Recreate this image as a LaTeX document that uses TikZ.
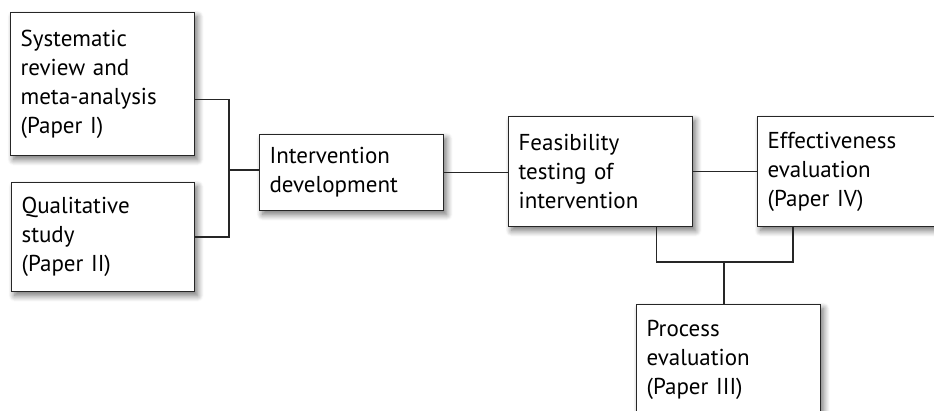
\documentclass[tikz,border=0pt]{standalone}
\usepackage{fontspec}
\setmainfont{PT Sans}
\usetikzlibrary{shadows.blur}
\begin{document}
\begin{tikzpicture}[x=1pt,y=-1pt,
  box/.style={draw=black!85, line width=1.2pt, fill=white, rectangle, anchor=north west,
    inner xsep=10pt, inner ysep=0pt, align=left,
    font=\fontsize{23}{29}\selectfont,
    blur shadow={shadow xshift=3pt, shadow yshift=-4pt, shadow blur steps=10, shadow opacity=55, shadow blur radius=6pt}},
  link/.style={draw=black!85, line width=1.4pt}]
\useasboundingbox (0,0) rectangle (934,410);
\node[box, text width=164pt, minimum height=143pt] (sys) at (10,12) {Systematic\\review and\\meta-analysis\\(Paper I)};
\node[box, text width=163pt, minimum height=109pt] (qual) at (11,182) {Qualitative\\study\\(Paper II)};
\node[box, text width=164pt, minimum height=76pt] (int) at (259,134) {Intervention\\development};
\node[box, text width=164pt, minimum height=110pt] (feas) at (508,116) {Feasibility\\testing of\\intervention};
\node[box, text width=170pt, minimum height=110pt] (eff) at (757,116) {Effectiveness\\evaluation\\(Paper IV)};
\node[box, text width=164pt, minimum height=110pt] (proc) at (636,304) {Process\\evaluation\\(Paper III)};
\coordinate (j) at (229,170);
\coordinate (k) at (724,262);
\draw[link] ([yshift=-15.5pt]sys.east) -| (j) |- (qual.east);
\draw[link] (j) -- (j -| int.west);
\draw[link] (int.east) -- (int.east -| feas.west);
\draw[link] (feas.east) -- (feas.east -| eff.west);
\draw[link] ([xshift=56pt]feas.south) |- (k) -| ([xshift=36pt]eff.south west);
\draw[link] (k) -- (k |- proc.north);
\end{tikzpicture}
\end{document}
